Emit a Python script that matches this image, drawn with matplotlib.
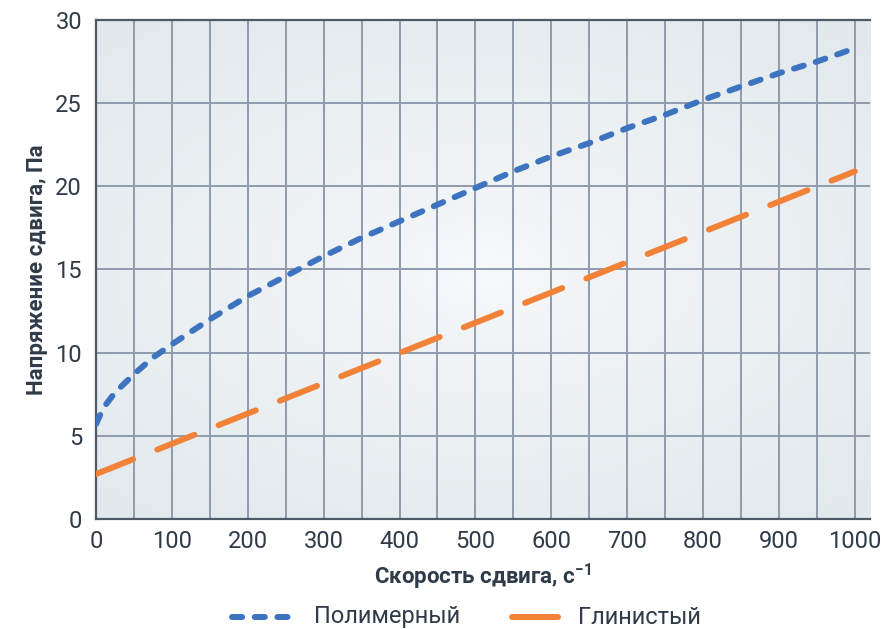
import matplotlib.pyplot as plt
import numpy as np
from matplotlib.lines import Line2D

plt.rcParams["font.family"] = ["Roboto", "DejaVu Sans"]
plt.rcParams["mathtext.fontset"] = "custom"
plt.rcParams["mathtext.rm"] = "Roboto"
plt.rcParams["mathtext.bf"] = "Roboto:bold"

# shear rate, 1/s
polymer_x = [0, 10, 25, 50, 75, 100, 150, 200, 250, 300, 350, 400, 450, 500,
             550, 600, 650, 700, 750, 800, 850, 900, 950, 1000]
# shear stress, Pa
polymer_y = [5.7, 6.7, 7.6, 8.7, 9.7, 10.5, 12.0, 13.4, 14.6, 15.8, 16.9, 17.9, 18.9, 19.9,
             20.9, 21.8, 22.6, 23.5, 24.3, 25.2, 26.0, 26.8, 27.5, 28.3]
clay_x = [0, 250, 500, 750, 1000]
clay_y = [2.7, 7.25, 11.8, 16.35, 20.9]

x_ticks = [0, 100, 200, 300, 400, 500, 600, 700, 800, 900, 1000]
y_ticks = [0, 5, 10, 15, 20, 25, 30]
series_labels = ["Полимерный", "Глинистый"]

BLUE = "#3d73bf"
ORANGE = "#f28238"
TEXT = "#2f3b48"
GRID = "#8f9bae"
SPINE = "#4f5a67"
LW = 4.3
BLUE_DASH = (1.7, 2.1)
ORANGE_DASH = (6.7, 4.35)

fig = plt.figure(figsize=(8.83, 6.29), dpi=100)
ax = fig.add_axes([0.1087, 0.1749, 0.9853 - 0.1087, 0.9682 - 0.1749])

# radial background gradient, light in the middle
gx, gy = np.meshgrid(np.linspace(-1, 1, 300), np.linspace(-1, 1, 300))
r = np.sqrt((gx * 0.85) ** 2 + (gy * 0.95) ** 2)
shade = np.clip(r / 1.25, 0, 1) ** 0.8
c_in = np.array([0.972, 0.978, 0.982])
c_out = np.array([0.886, 0.914, 0.929])
img = c_in[None, None, :] * (1 - shade[..., None]) + c_out[None, None, :] * shade[..., None]
ax.imshow(img, extent=(0, 1020, 0, 30), aspect="auto", zorder=0, interpolation="bilinear")

ax.set_xlim(0, 1020)
ax.set_ylim(0, 30)
for xv in np.arange(50, 1001, 50):
    ax.axvline(xv, color=GRID, lw=1.4, zorder=1)
for yv in y_ticks[1:-1]:
    ax.axhline(yv, color=GRID, lw=1.4, zorder=1)

ax.plot(polymer_x, polymer_y, color=BLUE, lw=LW, dashes=BLUE_DASH,
        dash_capstyle="round", zorder=3)
ax.plot(clay_x, clay_y, color=ORANGE, lw=LW, dashes=ORANGE_DASH,
        dash_capstyle="round", zorder=3)

ax.set_xticks(x_ticks)
ax.set_yticks(y_ticks)
ax.set_xticklabels([str(v) for v in x_ticks])
ax.tick_params(length=0, labelsize=17, colors=TEXT, pad=8)
ax.tick_params(axis="y", pad=10)

for side in ["left", "bottom", "top"]:
    ax.spines[side].set_color(SPINE)
    ax.spines[side].set_linewidth(1.6)
ax.spines["right"].set_visible(False)

ax.set_xlabel(r"Скорость сдвига, с$^{\mathbf{-1}}$", fontsize=16, fontweight="bold",
              color=TEXT, labelpad=6)
ax.set_ylabel("Напряжение сдвига, Па", fontsize=16, fontweight="bold", color=TEXT, labelpad=5)

# legend at the bottom
y_leg = 1 - 617 / 629
fig.add_artist(Line2D([232 / 883, 296 / 883], [y_leg, y_leg], transform=fig.transFigure,
                      color=BLUE, lw=LW, dashes=BLUE_DASH, dash_capstyle="round"))
fig.add_artist(Line2D([512 / 883, 558 / 883], [y_leg, y_leg], transform=fig.transFigure,
                      color=ORANGE, lw=LW, solid_capstyle="round"))
fig.text(314 / 883, y_leg, series_labels[0], fontsize=17, color=TEXT, va="center", ha="left")
fig.text(578 / 883, y_leg, series_labels[1], fontsize=17, color=TEXT, va="center", ha="left")

fig.savefig("out.png", dpi=100)
